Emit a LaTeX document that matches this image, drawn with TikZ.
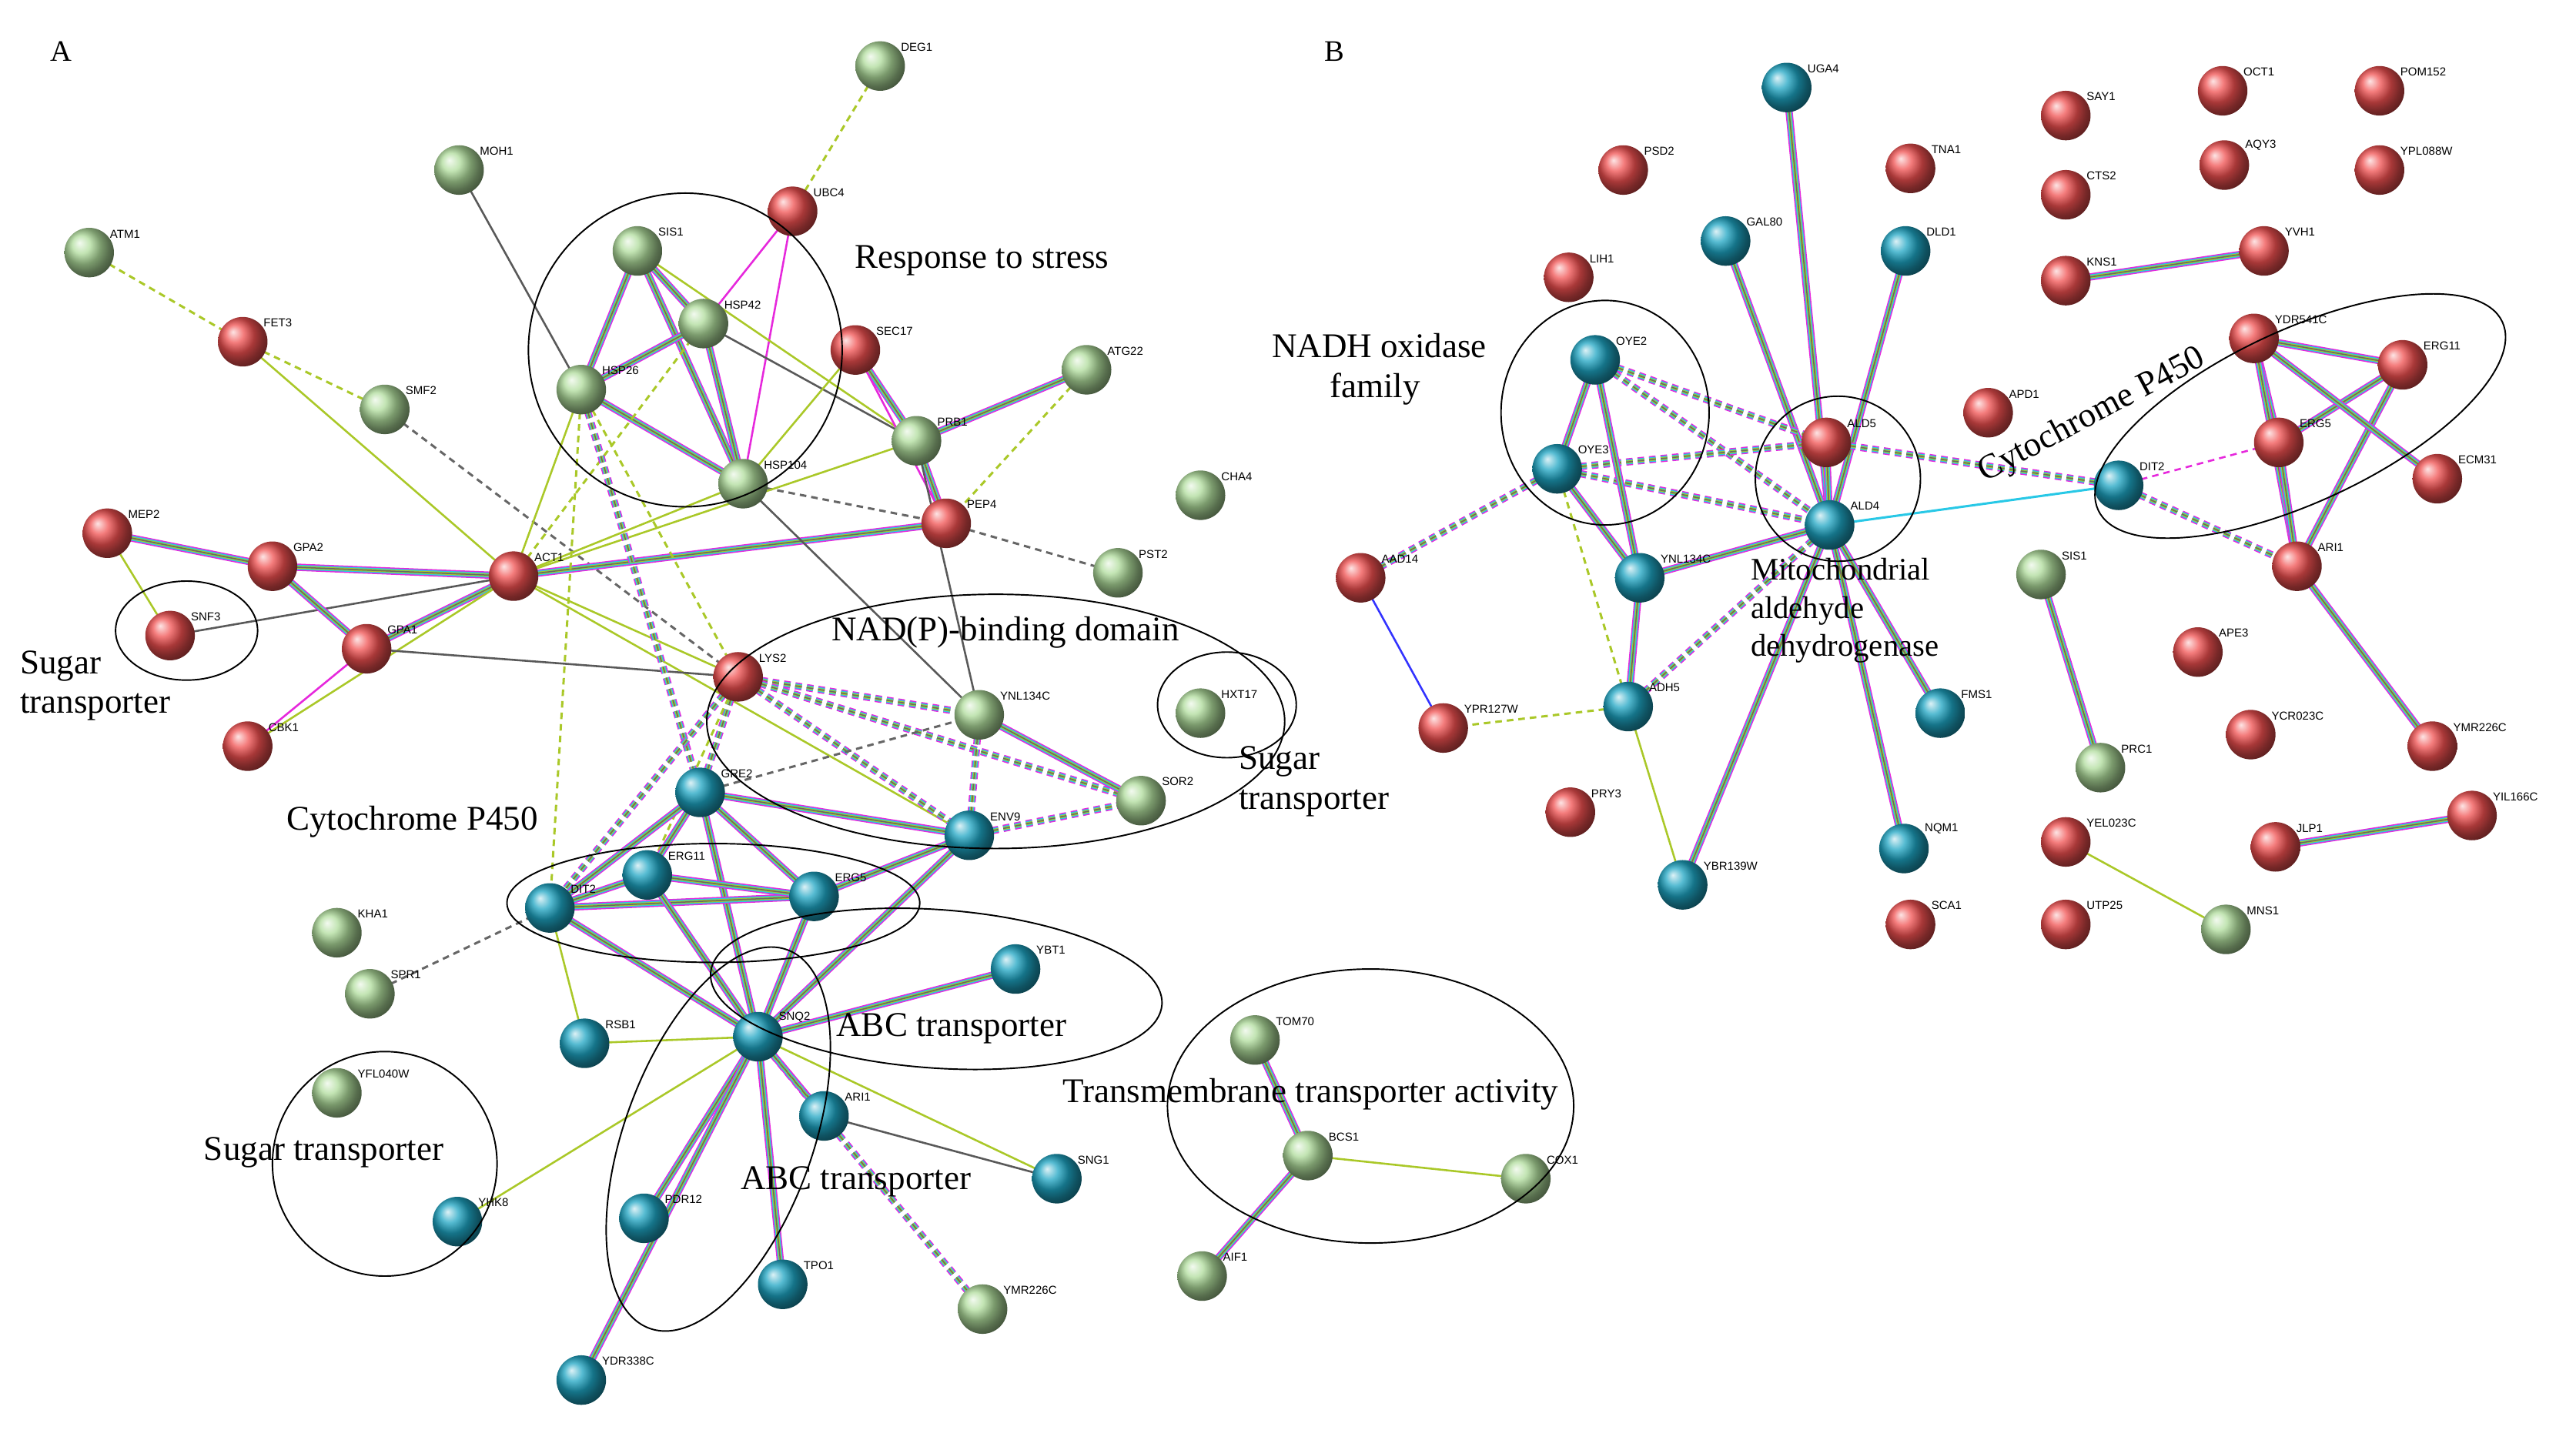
\documentclass[tikz,border=0pt]{standalone}
\usepackage{fontspec}
\setmainfont{Liberation Serif}
\setsansfont{Liberation Sans}
\usetikzlibrary{backgrounds,calc}
\definecolor{cr}{RGB}{240,80,80}
\definecolor{cg}{RGB}{175,220,155}
\definecolor{cb}{RGB}{30,165,195}
\definecolor{yg}{RGB}{170,200,40}
\definecolor{mg}{RGB}{230,40,220}
\definecolor{cy}{RGB}{40,200,230}
\tikzset{
 ball/.style={circle,minimum size=30pt,inner sep=0pt},
 lab/.style={font=\fontsize{7}{8}\selectfont\sffamily,inner sep=0pt},
 big/.style={font=\fontsize{21}{24}\selectfont,align=left},
 grp/.style={draw=black,line width=0.9pt},
 sy/.style={draw=yg,line width=1.2pt},
 dk/.style={draw=black!65,line width=1.2pt},
 dsh/.style={draw=yg,line width=1.4pt,dash pattern=on 4pt off 3pt},
 ddk/.style={draw=black!60,line width=1.4pt,dash pattern=on 4pt off 3pt},
 multi/.style={draw=black!60,line width=0.7pt,
   preaction={draw=mg,line width=4.4pt},
   preaction={draw=cy,line width=3pt},
   preaction={draw=yg,line width=1.7pt}},
 mdash/.style={draw=black!60,line width=0.7pt,dash pattern=on 4pt off 3pt,
   preaction={draw=mg,line width=4.4pt,dash pattern=on 4pt off 3pt},
   preaction={draw=cy,line width=3pt,dash pattern=on 4pt off 3pt},
   preaction={draw=yg,line width=1.7pt,dash pattern=on 4pt off 3pt}},
}
\newcommand\nd[5]{\node[ball,ball color=#4,label={[lab]35:#5}] (#1) at (#2,#3) {};}
\newcommand\E[3]{\draw[#1] (#2.center) -- (#3.center);}
\begin{document}
\begin{tikzpicture}[x=1pt,y=-1pt]
\path[use as bounding box] (0,0) rectangle (1560,872);
% panel A nodes
\nd{DEG1}{533}{40}{cg}{DEG1}
\nd{MOH1}{278}{103}{cg}{MOH1}
\nd{UBC4}{480}{128}{cr}{UBC4}
\nd{ATM1}{54}{153}{cg}{ATM1}
\nd{SIS1}{386}{152}{cg}{SIS1}
\nd{HSP42}{426}{196}{cg}{HSP42}
\nd{FET3}{147}{207}{cr}{FET3}
\nd{SEC17}{518}{212}{cr}{SEC17}
\nd{ATG22}{658}{224}{cg}{ATG22}
\nd{SMF2}{233}{248}{cg}{SMF2}
\nd{HSP26}{352}{236}{cg}{HSP26}
\nd{PRB1}{555}{267}{cg}{PRB1}
\nd{HSP104}{450}{293}{cg}{HSP104}
\nd{CHA4}{727}{300}{cg}{CHA4}
\nd{MEP2}{65}{323}{cr}{MEP2}
\nd{GPA2}{165}{343}{cr}{GPA2}
\nd{ACT1}{311}{349}{cr}{ACT1}
\nd{PEP4}{573}{317}{cr}{PEP4}
\nd{PST2}{677}{347}{cg}{PST2}
\nd{SNF3}{103}{385}{cr}{SNF3}
\nd{GPA1}{222}{393}{cr}{GPA1}
\nd{LYS2}{447}{410}{cr}{LYS2}
\nd{YNL}{593}{433}{cg}{YNL134C}
\nd{HXT17}{727}{432}{cg}{HXT17}
\nd{CBK1}{150}{452}{cr}{CBK1}
\nd{GRE2}{424}{480}{cb}{GRE2}
\nd{SOR2}{691}{485}{cg}{SOR2}
\nd{ENV9}{587}{506}{cb}{ENV9}
\nd{DIT2}{333}{550}{cb}{DIT2}
\nd{ERG11}{392}{530}{cb}{ERG11}
\nd{ERG5}{493}{543}{cb}{ERG5}
\nd{KHA1}{204}{565}{cg}{KHA1}
\nd{YBT1}{615}{587}{cb}{YBT1}
\nd{SPR1}{224}{602}{cg}{SPR1}
\nd{SNQ2}{459}{628}{cb}{SNQ2}
\nd{RSB1}{354}{632}{cb}{RSB1}
\nd{YFL}{204}{662}{cg}{YFL040W}
\nd{ARI1}{499}{676}{cb}{ARI1}
\nd{SNG1}{640}{714}{cb}{SNG1}
\nd{YHK8}{277}{740}{cb}{YHK8}
\nd{PDR12}{390}{738}{cb}{PDR12}
\nd{TPO1}{474}{778}{cb}{TPO1}
\nd{YMR}{595}{793}{cg}{YMR226C}
\nd{YDR338}{352}{836}{cb}{YDR338C}
\nd{TOM70}{760}{630}{cg}{TOM70}
\nd{BCS1}{792}{700}{cg}{BCS1}
\nd{COX1}{924}{714}{cg}{COX1}
\nd{AIF1}{728}{773}{cg}{AIF1}
% panel B nodes
\nd{UGA4}{1082}{53}{cb}{UGA4}
\nd{PSD2}{983}{103}{cr}{PSD2}
\nd{TNA1}{1157}{102}{cr}{TNA1}
\nd{SAY1}{1251}{70}{cr}{SAY1}
\nd{OCT1}{1346}{55}{cr}{OCT1}
\nd{POM}{1441}{55}{cr}{POM152}
\nd{AQY3}{1347}{100}{cr}{AQY3}
\nd{YPL}{1441}{103}{cr}{YPL088W}
\nd{CTS2}{1251}{118}{cr}{CTS2}
\nd{GAL80}{1045}{146}{cb}{GAL80}
\nd{DLD1}{1154}{152}{cb}{DLD1}
\nd{LIH1}{950}{168}{cr}{LIH1}
\nd{KNS1}{1251}{170}{cr}{KNS1}
\nd{YVH1}{1371}{152}{cr}{YVH1}
\nd{OYE2}{966}{218}{cb}{OYE2}
\nd{YDR541}{1365}{205}{cr}{YDR541C}
\nd{bERG11}{1455}{221}{cr}{ERG11}
\nd{APD1}{1204}{250}{cr}{APD1}
\nd{ALD5}{1106}{268}{cr}{ALD5}
\nd{bERG5}{1380}{268}{cr}{ERG5}
\nd{OYE3}{943}{284}{cb}{OYE3}
\nd{ECM31}{1476}{290}{cr}{ECM31}
\nd{bDIT2}{1283}{294}{cb}{DIT2}
\nd{ALD4}{1108}{318}{cb}{ALD4}
\nd{AAD14}{824}{350}{cr}{AAD14}
\nd{bYNL}{993}{350}{cb}{YNL134C}
\nd{bSIS1}{1236}{348}{cg}{SIS1}
\nd{bARI1}{1391}{343}{cr}{ARI1}
\nd{APE3}{1331}{395}{cr}{APE3}
\nd{ADH5}{986}{428}{cb}{ADH5}
\nd{FMS1}{1175}{432}{cb}{FMS1}
\nd{YPR127}{874}{441}{cr}{YPR127W}
\nd{YCR}{1363}{445}{cr}{YCR023C}
\nd{bYMR}{1473}{452}{cr}{YMR226C}
\nd{PRC1}{1272}{465}{cg}{PRC1}
\nd{PRY3}{951}{492}{cr}{PRY3}
\nd{YEL}{1251}{510}{cr}{YEL023C}
\nd{NQM1}{1153}{514}{cb}{NQM1}
\nd{JLP1}{1378}{513}{cr}{JLP1}
\nd{YIL}{1497}{494}{cr}{YIL166C}
\nd{YBR}{1019}{536}{cb}{YBR139W}
\nd{SCA1}{1157}{560}{cr}{SCA1}
\nd{UTP25}{1251}{560}{cr}{UTP25}
\nd{MNS1}{1348}{563}{cg}{MNS1}
\begin{pgfonlayer}{background}
% A edges
\E{dsh}{DEG1}{UBC4}\E{dk}{MOH1}{HSP26}\E{dsh}{ATM1}{FET3}\E{dsh}{FET3}{SMF2}
\E{ddk}{SMF2}{LYS2}\E{mg,line width=1.2pt}{UBC4}{HSP42}\E{mg,line width=1.2pt}{UBC4}{HSP104}
\E{multi}{SIS1}{HSP42}\E{multi}{SIS1}{HSP26}\E{multi}{SIS1}{HSP104}\E{multi}{HSP42}{HSP26}
\E{multi}{HSP42}{HSP104}\E{multi}{HSP26}{HSP104}\E{dk}{HSP42}{PRB1}\E{sy}{SIS1}{PRB1}
\E{sy}{SEC17}{HSP104}\E{multi}{SEC17}{PRB1}\E{mg,line width=1.2pt}{SEC17}{PEP4}\E{multi}{PRB1}{PEP4}
\E{multi}{PRB1}{ATG22}\E{dsh}{ATG22}{PEP4}\E{ddk}{HSP104}{PEP4}\E{ddk}{PEP4}{PST2}
\E{sy}{ACT1}{HSP26}\E{sy}{ACT1}{HSP104}\E{multi}{ACT1}{PEP4}\E{multi}{ACT1}{GPA2}\E{multi}{ACT1}{GPA1}
\E{dk}{ACT1}{SNF3}\E{sy}{ACT1}{CBK1}\E{sy}{ACT1}{LYS2}\E{sy}{ACT1}{FET3}\E{sy}{ACT1}{PRB1}
\E{sy}{ACT1}{ENV9}\E{dsh}{ACT1}{HSP42}\E{multi}{MEP2}{GPA2}\E{sy}{MEP2}{SNF3}\E{multi}{GPA2}{GPA1}
\E{mg,line width=1.2pt}{GPA1}{CBK1}\E{dk}{GPA1}{LYS2}\E{dsh}{HSP26}{LYS2}\E{mdash}{HSP26}{GRE2}
\E{dsh}{HSP26}{DIT2}\E{dk}{HSP104}{YNL}\E{dk}{YNL}{PRB1}
\E{mdash}{LYS2}{YNL}\E{mdash}{LYS2}{ENV9}\E{mdash}{LYS2}{GRE2}\E{mdash}{LYS2}{SOR2}\E{mdash}{LYS2}{DIT2}
\E{dsh}{LYS2}{ERG11}\E{mdash}{YNL}{ENV9}\E{multi}{YNL}{SOR2}\E{mdash}{ENV9}{SOR2}\E{ddk}{GRE2}{YNL}
\E{multi}{GRE2}{DIT2}\E{multi}{GRE2}{ERG11}\E{multi}{GRE2}{ERG5}\E{multi}{GRE2}{SNQ2}\E{multi}{GRE2}{ENV9}
\E{multi}{DIT2}{ERG11}\E{multi}{DIT2}{ERG5}\E{multi}{ERG11}{ERG5}\E{multi}{DIT2}{SNQ2}\E{multi}{ERG11}{SNQ2}
\E{multi}{ERG5}{SNQ2}\E{multi}{ERG5}{ENV9}\E{multi}{SNQ2}{YBT1}\E{sy}{SNQ2}{RSB1}\E{multi}{SNQ2}{ARI1}
\E{multi}{SNQ2}{PDR12}\E{multi}{SNQ2}{TPO1}\E{sy}{SNQ2}{YHK8}\E{multi}{SNQ2}{YDR338}\E{sy}{SNQ2}{SNG1}
\E{mdash}{SNQ2}{YMR}\E{dk}{ARI1}{SNG1}\E{sy}{RSB1}{DIT2}\E{ddk}{SPR1}{DIT2}\E{multi}{ENV9}{SNQ2}
\E{multi}{TOM70}{BCS1}\E{sy}{BCS1}{COX1}\E{multi}{BCS1}{AIF1}
% B edges
\E{multi}{UGA4}{ALD4}\E{multi}{GAL80}{ALD4}\E{multi}{DLD1}{ALD4}\E{multi}{OYE2}{OYE3}
\E{mdash}{OYE2}{ALD4}\E{mdash}{OYE3}{ALD4}\E{mdash}{OYE2}{ALD5}\E{mdash}{OYE3}{ALD5}\E{multi}{ALD5}{ALD4}
\E{multi}{ALD4}{bYNL}\E{mdash}{ALD4}{ADH5}\E{multi}{ALD4}{FMS1}\E{multi}{ALD4}{NQM1}\E{multi}{ALD4}{YBR}
\E{cy,line width=1.4pt}{ALD4}{bDIT2}\E{mdash}{ALD5}{bDIT2}\E{multi}{OYE3}{bYNL}\E{multi}{bYNL}{ADH5}
\E{sy}{ADH5}{YBR}\E{dsh}{ADH5}{YPR127}\E{mdash}{OYE3}{AAD14}\E{blue!80,line width=1.2pt}{AAD14}{YPR127}
\E{multi}{OYE2}{bYNL}\E{dsh}{OYE3}{ADH5}
\E{multi}{KNS1}{YVH1}\E{multi}{YDR541}{bERG11}\E{multi}{YDR541}{bERG5}\E{multi}{YDR541}{bARI1}
\E{multi}{bERG11}{bERG5}\E{multi}{bERG11}{bARI1}\E{multi}{bERG5}{bARI1}\E{multi}{YDR541}{ECM31}
\E{mg,line width=1.2pt,dash pattern=on 4pt off 3pt}{bDIT2}{bERG5}\E{mdash}{bDIT2}{bARI1}\E{multi}{bARI1}{bYMR}
\E{multi}{bSIS1}{PRC1}\E{sy}{YEL}{MNS1}\E{multi}{JLP1}{YIL}
\end{pgfonlayer}
% groups A
\draw[grp] (415,212) circle (95);
\node[big,anchor=west] at (514,158) {Response to stress};
\draw[grp] (113,382) ellipse (43 and 30);
\node[big,anchor=north west,inner sep=0pt] at (12,394) {Sugar\\transporter};
\draw[grp] (603,437) ellipse (175 and 77);
\node[big,anchor=west] at (500,383) {NAD(P)-binding domain};
\draw[grp] (743,427) ellipse (42 and 32);
\node[big,anchor=north west,inner sep=0pt] at (750,452) {Sugar\\transporter};
\draw[grp] (432,547) ellipse (125 and 36);
\node[big,anchor=west] at (170,498) {Cytochrome P450};
\draw[grp,rotate around={-4:(567,599)}] (567,599) ellipse (137 and 48);
\node[big,anchor=west] at (503,623) {ABC transporter};
\draw[grp,rotate around={-20:(435,690)}] (435,690) ellipse (57 and 122);
\node[big,anchor=west] at (445,716) {ABC transporter};
\draw[grp] (233,705) circle (68);
\node[big,anchor=west] at (120,698) {Sugar transporter};
\draw[grp] (830,670) ellipse (123 and 83);
\node[big,anchor=west] at (640,663) {Transmembrane transporter activity};
% groups B
\draw[grp] (972,250) ellipse (63 and 68);
\node[big,anchor=north west,inner sep=0pt,align=left] at (770,202) {NADH oxidase\\\hspace*{35pt}family};
\draw[grp] (1113,290) circle (50);
\node[big,anchor=north west,inner sep=0pt,align=left,font=\fontsize{19}{23}\selectfont] at (1060,338) {Mitochondrial\\aldehyde\\dehydrogenase};
\draw[grp,rotate around={25:(1393,252)}] (1393,252) ellipse (135 and 52);
\node[big,rotate=28] at (1267,252) {Cytochrome P450};
\node[font=\fontsize{18}{20}\selectfont] at (37,31) {A};
\node[font=\fontsize{18}{20}\selectfont] at (808,31) {B};
\end{tikzpicture}
\end{document}
